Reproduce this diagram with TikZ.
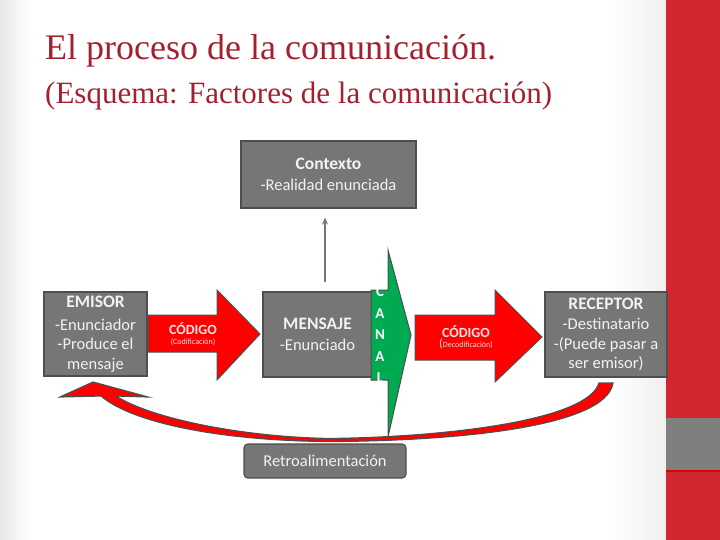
\documentclass[tikz,border=0pt]{standalone}
\usepackage{fontspec}
\setmainfont{Carlito}
\newfontfamily\titulo{Liberation Serif}
\usetikzlibrary{arrows.meta}
\definecolor{rojotitulo}{RGB}{163,32,48}
\definecolor{gris}{RGB}{118,118,118}
\definecolor{bordegris}{RGB}{78,78,78}
\definecolor{rojo}{RGB}{255,0,0}
\definecolor{verde}{RGB}{0,170,80}
\definecolor{rojobanda}{RGB}{208,40,46}
\definecolor{grisbanda}{RGB}{127,127,127}
\begin{document}
\begin{tikzpicture}[x=1pt,y=-1pt,
    caja/.style={draw=bordegris, line width=1.2pt, fill=gris, text=white!95!black, align=center, inner sep=0pt, font=\fontsize{16.5}{19.5}\selectfont},
    flecharoja/.style={draw=bordegris, line width=1pt, fill=rojo},
    textoflecha/.style={text=white!90!red, align=center, inner sep=0pt, font=\fontsize{8}{10}\selectfont}]
    \useasboundingbox (0,0) rectangle (720,540);
    \shade[left color=black!9, right color=white] (0,0) rectangle (30,540);
    \shade[left color=white, right color=black!6] (610,0) rectangle (666,540);
    \fill[rojobanda] (666,0) rectangle (720,540);
    \fill[grisbanda] (666,418) rectangle (720,470);
    \fill[rojo!85!black] (666,470) rectangle (720,472);
    \node[anchor=base west, inner sep=0pt, text=rojotitulo, font=\titulo\fontsize{36}{40}\selectfont] (titulo) at (45,60) {El proceso de la comunicación.};
    \node[anchor=base west, inner sep=0pt, text=rojotitulo, font=\titulo\fontsize{31}{34}\selectfont] (subtitulo) at (45,104) {(Esquema: Factores de la comunicación)};
    \node[caja, minimum width=175, minimum height=67] (contexto) at (328.5,174.5) {{\fontsize{17.5}{19}\selectfont\bfseries Contexto}\\[1pt]-Realidad enunciada};
    \node[caja, minimum width=103, minimum height=84] (emisor) at (95.5,334) {{\fontsize{17.5}{19}\selectfont\bfseries EMISOR}\\[3pt]-Enunciador\\-Produce el\\mensaje};
    \node[caja, minimum width=109, minimum height=85] (mensaje) at (317.5,334.5) {{\fontsize{17.5}{19}\selectfont\bfseries MENSAJE}\\[2pt]-Enunciado};
    \node[caja, minimum width=122, minimum height=85] (receptor) at (606,334.5) {{\fontsize{17.5}{19}\selectfont\bfseries RECEPTOR}\\[1pt]-Destinatario\\-(Puede pasar a\\ser emisor)};
    \draw[flecharoja] (148,315) -- (217,315) -- (217,290) -- (260,334) -- (217,380) -- (217,352) -- (148,352) -- cycle;
    \node[textoflecha] (codigo) at (193,334) {{\fontsize{14}{16}\selectfont\bfseries CÓDIGO}\\(Codificación)};
    \draw[flecharoja] (415,315) -- (495,315) -- (495,290) -- (542,337) -- (495,382) -- (495,360) -- (415,360) -- cycle;
    \node[textoflecha] (decodigo) at (466,337) {{\fontsize{14}{16}\selectfont\bfseries CÓDIGO}\\{\fontsize{12}{10}\selectfont(}Decodificación)};
    \draw[draw=bordegris, line width=1pt, fill=verde] (371,290) -- (388,290) -- (388,250) -- (411,335) -- (388,437) -- (388,380) -- (371,380) -- cycle;
    \node[text=white, align=center, inner sep=0pt, font=\fontsize{15}{21.5}\selectfont\bfseries] (canal) at (380,335) {C\\A\\N\\A\\L};
    \draw[gris, line width=1.6pt, -{Stealth[length=7pt,width=6pt]}] ([xshift=7.5pt,yshift=9pt]mensaje.north) -- ([xshift=-3.5pt,yshift=-9pt]contexto.south);
    \draw[flecharoja, line width=1.2pt] (93,382) -- (148,397) -- (116,396) .. controls (150,418) and (240,437) .. (330,438.5) .. controls (450,437) and (588,420) .. (599,383) -- (613,383) .. controls (606,428) and (450,441) .. (330,441.5) .. controls (230,441) and (135,425) .. (101,396) -- (60,397) -- cycle;
    \node[caja, rounded corners=4pt, minimum width=162, minimum height=34] (retro) at (325,461) {Retroalimentación};
\end{tikzpicture}
\end{document}
